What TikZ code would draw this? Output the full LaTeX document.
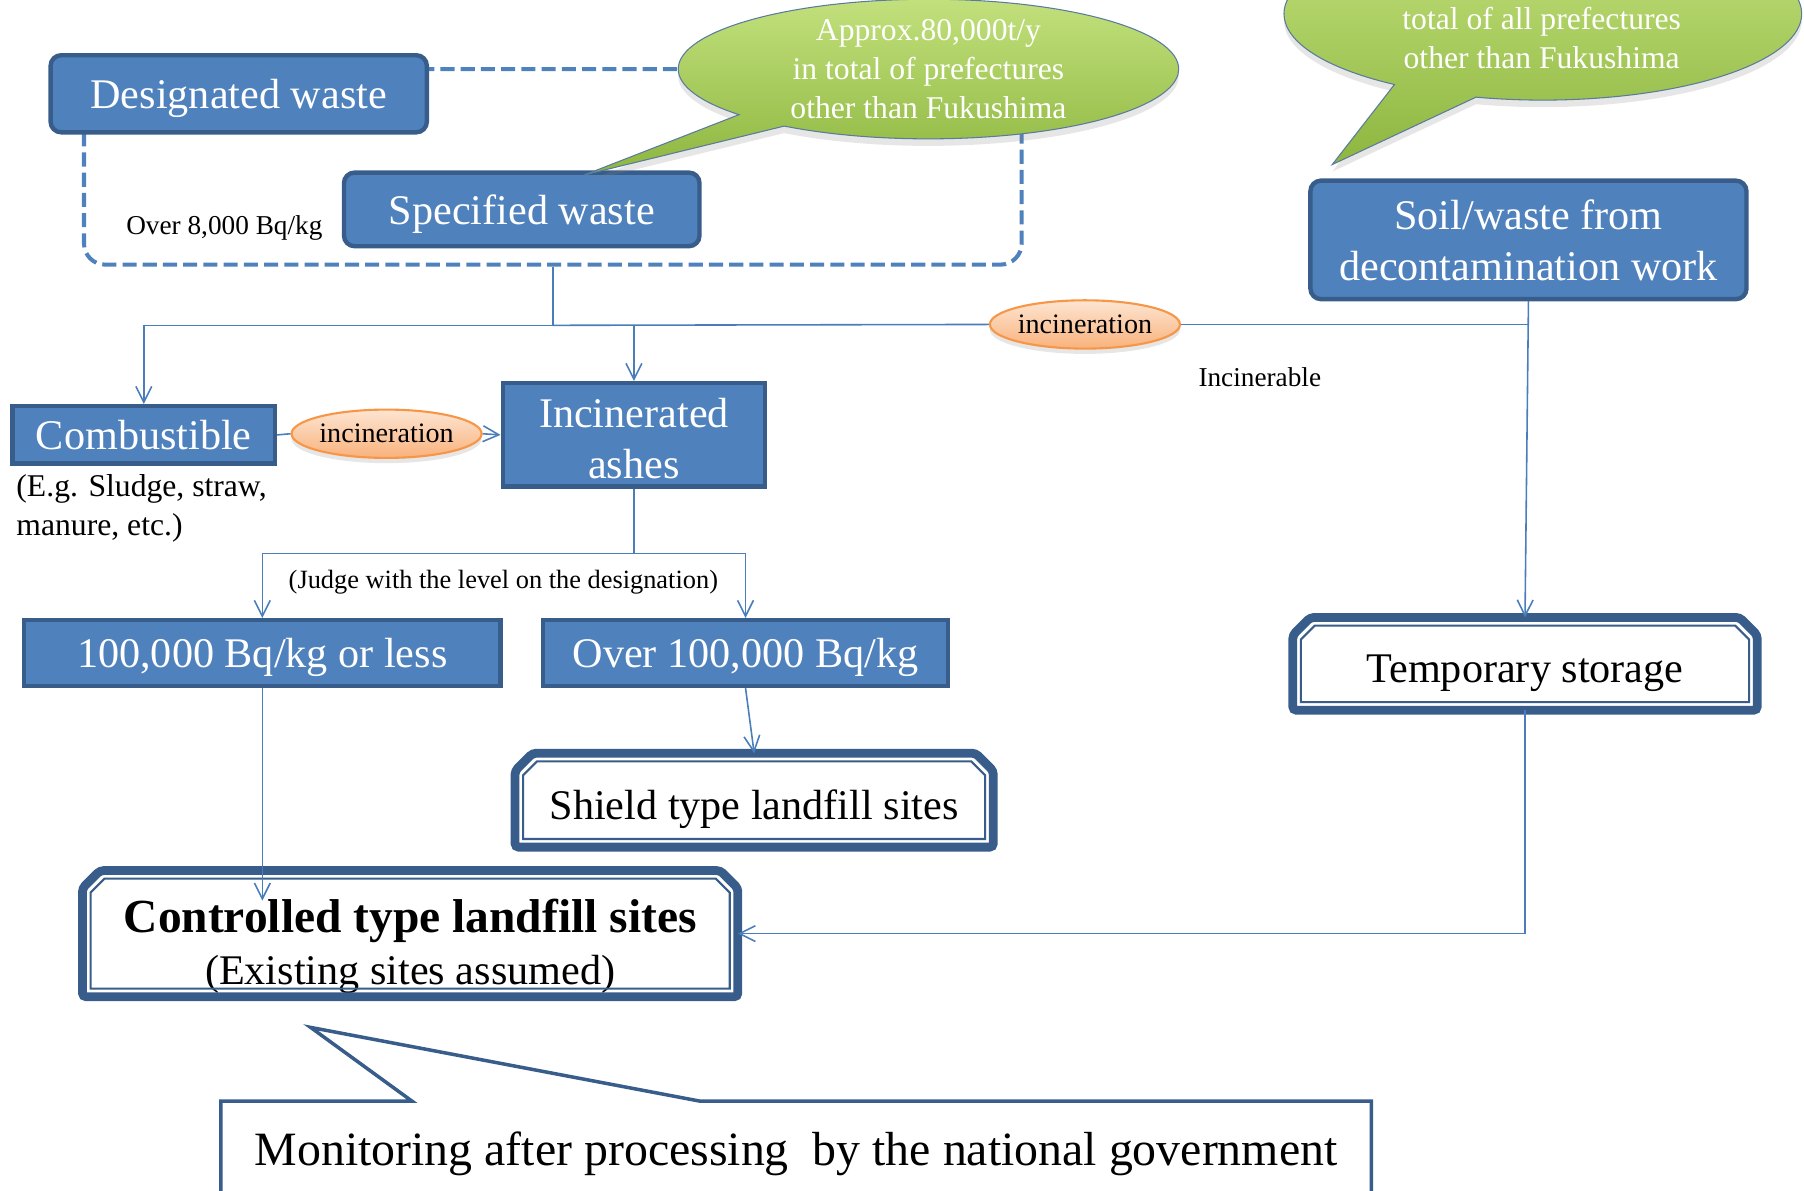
\documentclass[tikz,border=0pt]{standalone}
\usepackage{fontspec}
\setmainfont{Liberation Serif}
\usetikzlibrary{positioning}
\usetikzlibrary{shapes.geometric, shapes.callouts, arrows.meta, shadows}
\definecolor{boxfill}{HTML}{4F81BD}
\definecolor{boxedge}{HTML}{385D8A}
\definecolor{linkblue}{HTML}{4A7EBB}
\definecolor{burnedge}{HTML}{F79646}
\definecolor{burntop}{HTML}{FDE5D2}
\definecolor{burnbot}{HTML}{F9B27C}
\definecolor{leaftop}{HTML}{C2E07C}
\definecolor{leafbot}{HTML}{8DB63F}
\definecolor{leafedge}{HTML}{5A7A9E}
\newcommand{\unitpx}{0.023cm}
\tikzset{wastebox/.style={rectangle, draw=boxedge, line width=2.5pt, fill=boxfill, text=white, align=center, inner sep=0pt, font=\fontsize{24}{29}\selectfont}, roundbox/.style={wastebox, rounded corners=6pt}, oneline/.style={text height=17pt, text depth=0pt}}
\tikzset{burn/.style={ellipse, draw=burnedge, line width=1.2pt, top color=burntop, bottom color=burnbot, inner sep=0pt, font=\fontsize{16}{19}\selectfont, drop shadow={opacity=0.2, shadow xshift=0pt, shadow yshift=-3pt}}}
\tikzset{remark/.style={ellipse callout, draw=leafedge, line width=0.6pt, top color=leaftop, bottom color=leafbot, text=white, align=center, inner sep=0pt, font=\fontsize{18}{22}\selectfont, drop shadow={opacity=0.2, shadow xshift=0pt, shadow yshift=-4pt}}}
\tikzset{site/.style={rectangle, fill=white, inner sep=0pt, align=center, font=\fontsize{24}{29}\selectfont}}

\begin{document}
\begin{tikzpicture}[
    x=\unitpx, y=-\unitpx,
    link/.style={draw=linkblue, line width=0.9pt},
    arrow/.style={link, -{Straight Barb[length=9pt, width=9pt]}},
    note/.style={inner sep=0pt, font=\fontsize{15.5}{19}\selectfont},
    groupline/.style={draw=boxfill, line width=2.3pt, dash pattern=on 8pt off 3.5pt, rounded corners=12pt, inner sep=0pt},
    outerframe/.style={draw=boxedge, line width=5pt, rounded corners=2pt},
    innerframe/.style={draw=boxedge, line width=1.2pt},
    monline/.style={draw=boxedge, fill=white, line width=2pt}
]
\useasboundingbox (0,0) rectangle (1568,1035);
\clip (0,0) rectangle (1568,1035);

% Waste over the designation level
\node[groupline, minimum width=815*\unitpx, minimum height=170*\unitpx] (group) at (480.5,145) {};
\node[roundbox, oneline, minimum width=327*\unitpx, minimum height=67*\unitpx] (desig) at (207.5,81.5) {Designated waste};
\node[roundbox, oneline, minimum width=309*\unitpx, minimum height=64*\unitpx] (spec) at (453.5,182) {Specified waste};
\node[note] (over) at (195,198) {Over 8,000 Bq/kg};
\node[remark, minimum width=435*\unitpx, minimum height=115*\unitpx, callout absolute pointer={(508,152)}, callout pointer arc=14] (note1) at (807,60) {Approx.80,000t/y\\in total of prefectures\\other than Fukushima};

% Decontamination
\node[remark, minimum width=450*\unitpx, minimum height=150*\unitpx, callout absolute pointer={(1158,143)}, callout pointer arc=20] (note2) at (1341,12) {};
\node[text=white, align=center, inner sep=0pt, font=\fontsize{18}{22}\selectfont] (note2text) at (1340,33) {total of all prefectures\\other than Fukushima};
\node[roundbox, minimum width=379*\unitpx, minimum height=103*\unitpx] (soil) at (1328.5,208.5) {Soil/waste from\\decontamination work};

% Treatment
\node[wastebox, oneline, minimum width=228*\unitpx, minimum height=50*\unitpx] (comb) at (125,378) {Combustible};
\node[note, font=\fontsize{18}{22}\selectfont, align=left, anchor=west] (eg) at (14,442) {(E.g. Sludge, straw,\\manure, etc.)};
\node[burn, minimum width=158*\unitpx, minimum height=42*\unitpx] (burn2) at (336,377) {incineration};
\node[wastebox, minimum width=228*\unitpx, minimum height=90*\unitpx] (ash) at (551,378) {\rule{0pt}{21pt}Incinerated\\ashes};
\node[burn, minimum width=160*\unitpx, minimum height=42*\unitpx] (burn1) at (943,282) {incineration};
\node[note] (incin) at (1095,328) {Incinerable};
\node[note, font=\fontsize{15}{18}\selectfont] (judge) at (437.5,506) {(Judge with the level on the designation)};
\node[wastebox, oneline, minimum width=414*\unitpx, minimum height=57*\unitpx] (low) at (228,567.5) {100,000 Bq/kg or less};
\node[wastebox, oneline, minimum width=352*\unitpx, minimum height=57*\unitpx] (high) at (648,567.5) {Over 100,000 Bq/kg};

% Disposal
\node[site, text height=21.4pt, text depth=0pt, minimum width=415*\unitpx, minimum height=81*\unitpx] (shield) at (655.5,695.5) {Shield type landfill sites};
\node[site, text height=21.4pt, text depth=0pt, minimum width=403*\unitpx, minimum height=80*\unitpx] (temp) at (1325.5,577) {Temporary storage};
\node[site, minimum width=569*\unitpx, minimum height=109*\unitpx, font=\fontsize{24}{29.5}\selectfont] (ctrl) at (356.5,811.5) {{\fontsize{27}{29.5}\selectfont\bfseries\rule{0pt}{33pt}Controlled type landfill sites}\\(Existing sites assumed)};
\foreach \n in {shield, temp, ctrl} {
  \draw[outerframe] ([yshift=-10pt]\n.north west) -- ([xshift=10pt]\n.north west) -- ([xshift=-10pt]\n.north east) -- ([yshift=-10pt]\n.north east) -- (\n.south east) -- (\n.south west) -- cycle;
  \draw[innerframe] ([shift={(4.6pt,-12.5pt)}]\n.north west) -- ([shift={(12.5pt,-4.6pt)}]\n.north west) -- ([shift={(-12.5pt,-4.6pt)}]\n.north east) -- ([shift={(-4.6pt,-12.5pt)}]\n.north east) -- ([shift={(-4.6pt,4.6pt)}]\n.south east) -- ([shift={(4.6pt,4.6pt)}]\n.south west) -- cycle;
}

% Monitoring
\draw[monline] (192,1050) -- (192,957) -- (358,957) -- (270,893) -- (608,957) -- (1192,957) -- (1192,1050);
\node[inner sep=0pt, text height=18pt, text depth=0pt, font=\fontsize{27.2}{32}\selectfont] (mon) at (692,999) {Monitoring after processing~ by the national government};

% Paths
\draw[link] (group.south) -- ++(0,51) coordinate (split);
\draw[arrow] (split) -| (comb.north);
\draw[arrow] (split) -| (ash.north);
\draw[link] (soil.south) |- (burn1.east);
\draw[link] (burn1.west) -- (split);
\draw[arrow] (soil.south) -- (temp.north);
\draw[link] (comb.east) -- (burn2.west);
\draw[arrow] (burn2.east) -- (ash.west);
\draw[link] (ash.south) -- ++(0,56) coordinate (fork);
\draw[arrow] (fork) -| (low.north);
\draw[arrow] (fork) -| (high.north);
\draw[arrow] (high.south) -- (shield.north);
\draw[arrow] (low.south) -- ([yshift=-0.6cm]low.south |- ctrl.north);
\draw[arrow] (temp.south) |- (ctrl.east);

\end{tikzpicture}
\end{document}
